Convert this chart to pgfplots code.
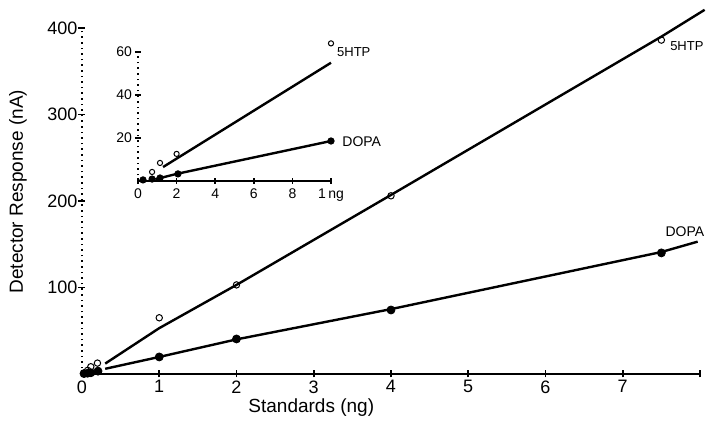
\documentclass[border=0pt]{standalone}
\usepackage{fontspec}
\setmainfont{Liberation Sans}
\usepackage{pgfplots}
\pgfplotsset{compat=1.18}
\begin{document}
\begin{tikzpicture}
\useasboundingbox (-41pt,-26pt) rectangle (312.5pt,187pt);
\begin{axis}[
 at={(0pt,0pt)}, anchor=south west,
 scale only axis, width=309pt, height=173pt,
 xmin=0, xmax=8, ymin=0, ymax=400,
 axis lines=left,
 x axis line style={-, line width=0.9pt},
 y axis line style={-, dotted, line width=0.8pt},
 xtick={0,1,2,3,4,5,6,7,8}, xticklabels={0,1,2,3,4,5,6,7,{}},
 ytick={100,200,300,400},
 tick align=center, major tick length=3.5pt,
 tick style={black, line width=0.8pt},
 /pgf/number format/assume math mode=true,
 ticklabel style={font=\fontsize{9}{10}\selectfont},
 xticklabel style={yshift=2pt},
 yticklabel style={xshift=3pt},
 xlabel={Standards (ng)}, ylabel={Detector Response (nA)},
 label style={font=\fontsize{9.5}{11}\selectfont},
 xlabel style={at={(axis description cs:0.371,-0.098)}, anchor=center},
 ylabel style={at={(axis description cs:-0.1036,0.527)}, anchor=center},
 clip=false,
]
% fitted lines
\addplot[black, line width=1.2pt, no marks] coordinates {(0.3,12) (1,53) (2,103) (4,207) (7.5,390) (8.06,421)};
\addplot[black, line width=1.2pt, no marks] coordinates {(0.3,6) (1,19.7) (2,40) (4,75) (7.5,141) (7.97,153)};
% 5HTP points
\addplot[only marks, mark=o, mark size=1.6pt, mark options={fill=white, line width=0.5pt}] coordinates {(0.073,4.2) (0.114,8.4) (0.2,12.6) (1,65) (2,103) (4,206) (7.5,386)};
% DOPA points
\addplot[only marks, mark=*, mark size=2pt, black] coordinates {(0.026,0.5) (0.073,0.9) (0.114,1.4) (0.207,3.3) (1,19.7) (2,40.5) (4,74) (7.5,140)};
\node[anchor=west, font=\fontsize{6.5}{7}\selectfont, inner sep=0pt] at (axis cs:7.61,379) {5HTP};
\node[anchor=west, font=\fontsize{7}{8}\selectfont, inner sep=0pt] at (axis cs:7.55,164) {DOPA};
\end{axis}
\begin{axis}[
 at={(28pt,96.5pt)}, anchor=south west,
 scale only axis, width=96.5pt, height=64.5pt,
 xmin=0, xmax=10, ymin=0, ymax=60,
 axis lines=left,
 x axis line style={-, line width=0.9pt},
 y axis line style={-, dotted, line width=0.8pt},
 xtick={0,2,4,6,8,10}, xticklabels={0,2,4,6,8,1\,ng},
 ytick={20,40,60},
 tick align=center, major tick length=3pt,
 tick style={black, line width=0.7pt},
 /pgf/number format/assume math mode=true,
 ticklabel style={font=\fontsize{7}{8}\selectfont},
 xticklabel style={yshift=1pt},
 yticklabel style={xshift=2pt},
 clip=false,
]
\addplot[black, line width=1.2pt, no marks] coordinates {(1.3,6.5) (10,55)};
\addplot[black, line width=1.2pt, no marks] coordinates {(0.9,0.8) (2,3.3) (10,18.6)};
\addplot[only marks, mark=o, mark size=1.3pt, mark options={fill=white, line width=0.5pt}] coordinates {(0.73,4.2) (1.14,8.4) (2,12.6) (10,64)};
\addplot[only marks, mark=*, mark size=1.6pt, black] coordinates {(0.26,0.5) (0.73,0.9) (1.14,1.4) (2.07,3.3) (10,18.6)};
\node[anchor=west, font=\fontsize{6.5}{7}\selectfont, inner sep=0pt] at (axis cs:10.3,60) {5HTP};
\node[anchor=west, font=\fontsize{7}{8}\selectfont, inner sep=0pt] at (axis cs:10.57,18.1) {DOPA};
\end{axis}
\end{tikzpicture}
\end{document}
